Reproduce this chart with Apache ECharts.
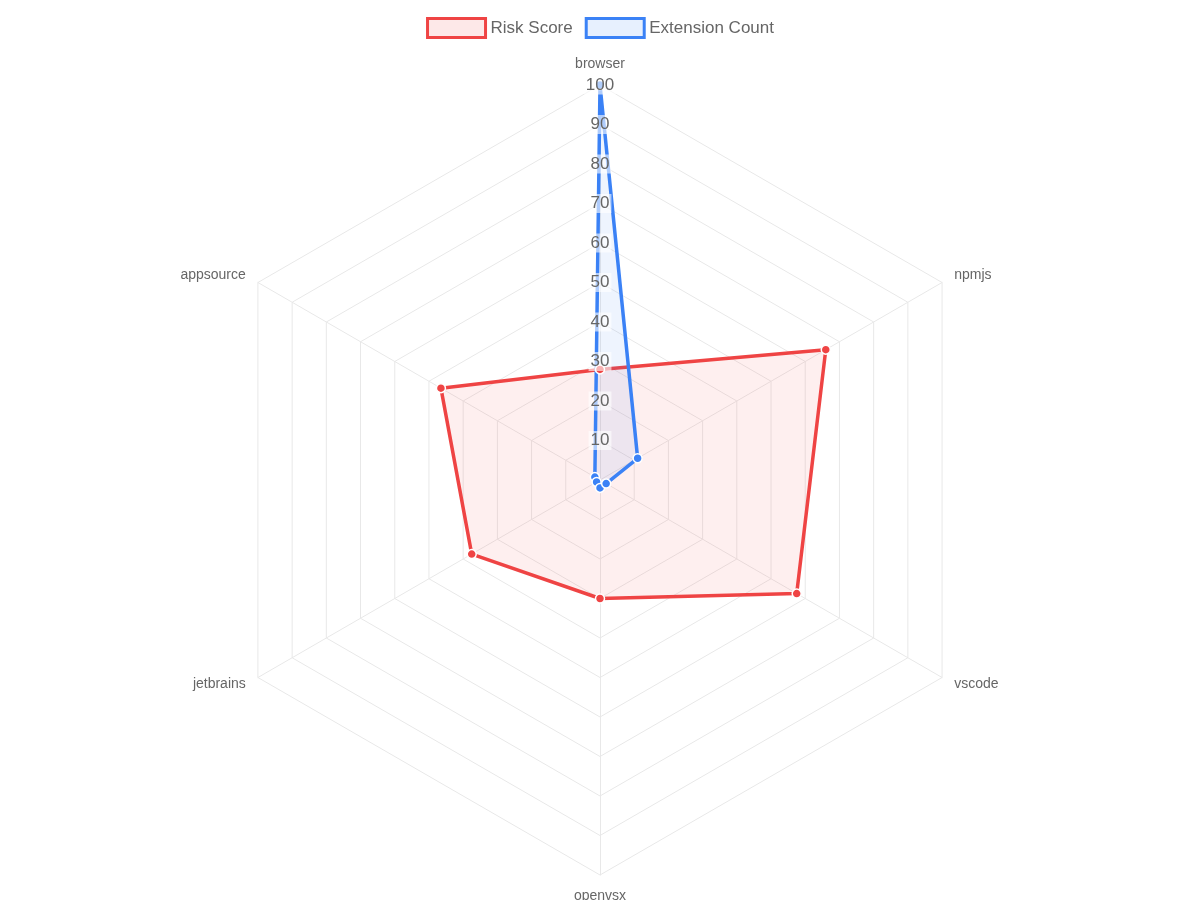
<!DOCTYPE html>
<html><head><meta charset="utf-8">
<script src="https://cdn.jsdelivr.net/npm/echarts@6/dist/echarts.min.js"></script>
<style>html,body{margin:0;padding:0;background:#fff}#c{width:1200px;height:900px}</style>
</head><body><div id="c"></div>
<script>
const categories = ['browser','npmjs','vscode','openvsx','jetbrains','appsource'];
const riskScore = [28, 66, 57.5, 30, 37.5, 46.5];
const extensionCount = [100, 11, 1.8, 2, 1, 1.5];
const tickValues = [10,20,30,40,50,60,70,80,90,100];

// ECharts draws radar axes counter-clockwise; reorder so they run clockwise
const order = [0, 5, 4, 3, 2, 1];
const pick = arr => order.map(i => arr[i]);

const chart = echarts.init(document.getElementById('c'));
const gridColor = '#e8e8e8';
chart.setOption({
  animation: false,
  legend: {
    top: 12, itemGap: 12, itemWidth: 58, itemHeight: 19,
    textStyle: { color: '#666', fontSize: 17, fontFamily: 'Liberation Sans, Arial' },
    data: [
      { name: 'Risk Score', icon: 'rect', itemStyle: { color: 'rgba(239,68,68,0.12)', borderColor: '#ef4444', borderWidth: 3 } },
      { name: 'Extension Count', icon: 'rect', itemStyle: { color: 'rgba(59,130,246,0.12)', borderColor: '#3b82f6', borderWidth: 3 } }
    ]
  },
  radar: {
    center: [600, 480], radius: 395, startAngle: 90, shape: 'polygon', splitNumber: 10,
    indicator: pick(categories).map(n => ({ name: n, min: 0, max: 100 })),
    axisName: { color: '#666', fontSize: 14, fontFamily: 'Liberation Sans, Arial' },
    nameGap: 14,
    splitLine: { lineStyle: { color: gridColor, width: 1 } },
    axisLine: { lineStyle: { color: gridColor, width: 1 } },
    splitArea: { show: false },
    axisTick: { show: false },
    axisLabel: { show: false }
  },
  polar: { center: [600, 480], radius: 395 },
  angleAxis: { show: false, startAngle: 90, min: 0, max: 360 },
  radiusAxis: {
    min: 0, max: 100, interval: 10, z: 20,
    axisLine: { show: false }, axisTick: { show: false }, splitLine: { show: false },
    axisLabel: {
      show: true, showMinLabel: false, color: '#666', fontSize: 17, align: 'center', margin: 0,
      verticalAlign: 'middle', backgroundColor: 'rgba(255,255,255,0.6)', padding: [1, 2],
      fontFamily: 'Liberation Sans, Arial'
    }
  },
  series: [{
    type: 'radar', z: 5,
    symbol: 'circle', symbolSize: 9,
    data: [
      { name: 'Risk Score', value: pick(riskScore),
        lineStyle: { color: '#ef4444', width: 3.5 },
        itemStyle: { color: '#ef4444', borderColor: '#fff', borderWidth: 1.5 },
        areaStyle: { color: 'rgba(239,68,68,0.12)' } },
      { name: 'Extension Count', value: pick(extensionCount),
        lineStyle: { color: '#3b82f6', width: 3.5 },
        itemStyle: { color: '#3b82f6', borderColor: '#fff', borderWidth: 1.5 },
        areaStyle: { color: 'rgba(59,130,246,0.12)' } }
    ]
  }]
});
</script></body></html>
